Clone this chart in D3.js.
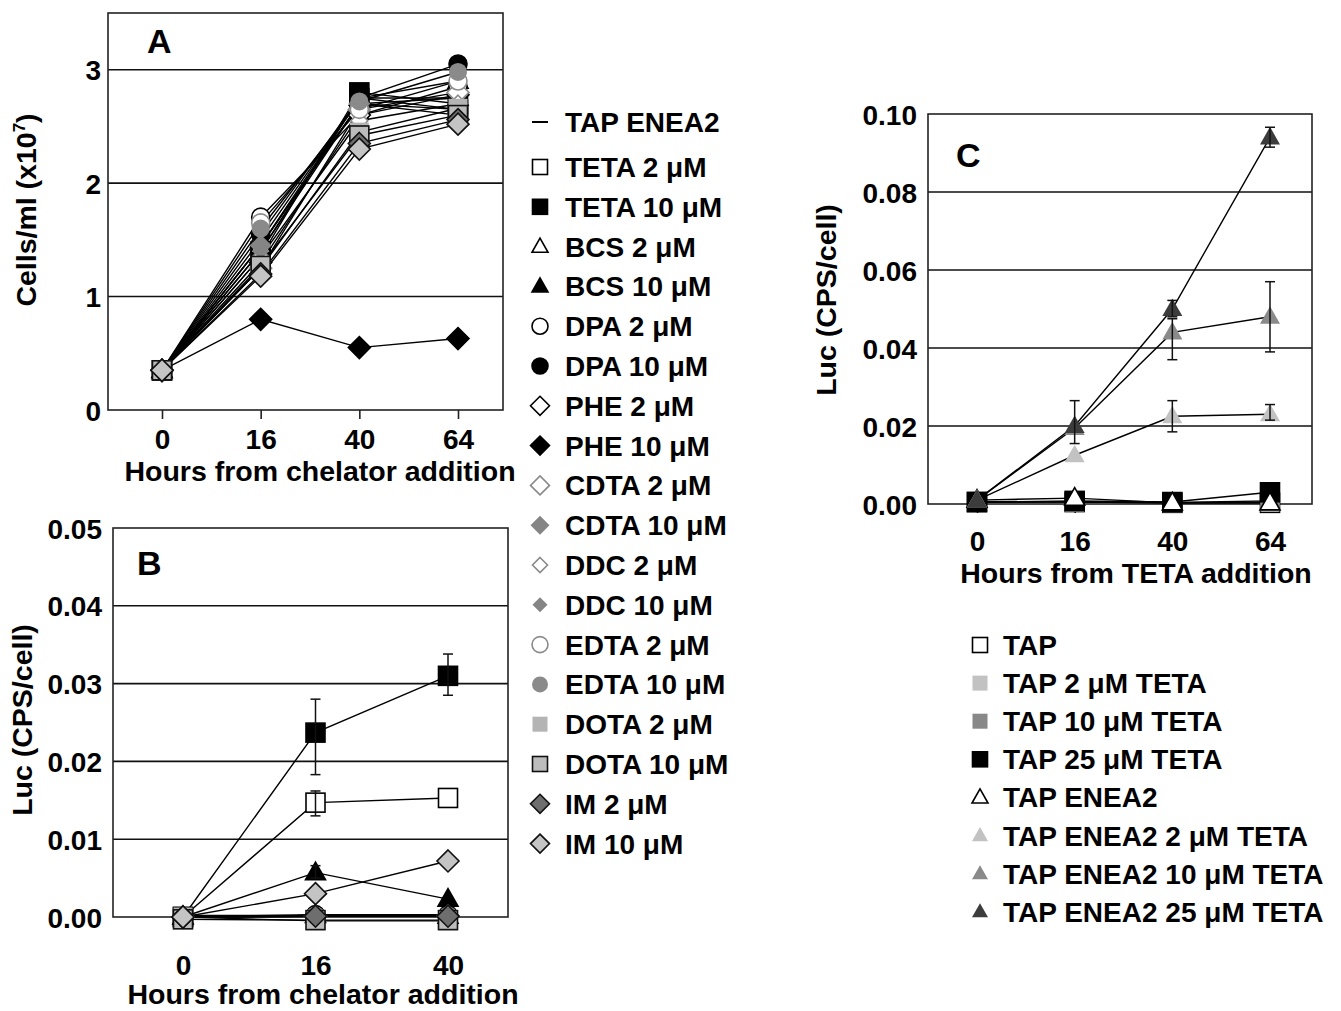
<!DOCTYPE html>
<html><head><meta charset="utf-8">
<script src="https://cdn.jsdelivr.net/npm/d3@7"></script>
<style>
body{margin:0;background:#fff}
svg text{font-family:"Liberation Sans",Arial,Helvetica,sans-serif;font-weight:bold;fill:#000}
</style>
</head><body>
<svg id="chart" width="1341" height="1011"></svg>
<script>
// ---------------- DATA ----------------
const hoursA = [0, 16, 40, 64];
const hoursB = [0, 16, 40];
const hoursC = [0, 16, 40, 64];

const chelatorSeries = ["TAP ENEA2","TETA 2 μM","TETA 10 μM","BCS 2 μM","BCS 10 μM","DPA 2 μM","DPA 10 μM",
  "PHE 2 μM","PHE 10 μM","CDTA 2 μM","CDTA 10 μM","DDC 2 μM","DDC 10 μM","EDTA 2 μM","EDTA 10 μM",
  "DOTA 2 μM","DOTA 10 μM","IM 2 μM","IM 10 μM"];

// Panel A: cells/ml (x10^7) at 0,16,40,64 h
const cellsA = [
  [0.35, 1.45, 2.75, 2.75],
  [0.35, 1.40, 2.75, 2.65],
  [0.35, 1.35, 2.80, 2.70],
  [0.35, 1.45, 2.70, 2.75],
  [0.35, 1.50, 2.75, 2.90],
  [0.35, 1.70, 2.60, 2.85],
  [0.35, 1.55, 2.75, 3.05],
  [0.35, 1.30, 2.60, 2.78],
  [0.35, 0.80, 0.55, 0.63],
  [0.35, 1.25, 2.65, 2.80],
  [0.35, 1.45, 2.70, 2.60],
  [0.35, 1.35, 2.55, 2.70],
  [0.35, 1.40, 2.70, 2.65],
  [0.35, 1.65, 2.65, 2.90],
  [0.35, 1.60, 2.72, 2.98],
  [0.35, 1.25, 2.45, 2.66],
  [0.35, 1.27, 2.42, 2.60],
  [0.35, 1.20, 2.35, 2.56],
  [0.35, 1.18, 2.30, 2.52]
];

// Panel B: Luc (CPS/cell) at 0,16,40 h
const lucB = [
  [0.0002, 0.0002, 0.0002],
  [0.0000, 0.0147, 0.0153],
  [0.0000, 0.0237, 0.0310],
  [0.0000, 0.0002, 0.0001],
  [0.0000, 0.0057, 0.0023],
  [0.0000, 0.0002, 0.0002],
  [0.0000, 0.0003, 0.0003],
  [0.0000, 0.0001, 0.0001],
  [0.0000, 0.0002, 0.0001],
  [0.0000, 0.0001, 0.0001],
  [0.0000, 0.0002, 0.0002],
  [0.0000, 0.0001, 0.0001],
  [0.0000, 0.0002, 0.0001],
  [0.0000, 0.0001, 0.0001],
  [0.0000, 0.0002, 0.0002],
  [0.0000, -0.0005, -0.0005],
  [-0.0003, -0.0004, -0.0004],
  [0.0000, 0.0001, 0.0001],
  [0.0000, 0.0030, 0.0072]
];
const errorsB = [
  {series: "TETA 10 μM", hour: 16, lo: 0.0183, hi: 0.0280},
  {series: "TETA 10 μM", hour: 40, lo: 0.0285, hi: 0.0338},
  {series: "TETA 2 μM",  hour: 16, lo: 0.0130, hi: 0.0162},
  {series: "BCS 10 μM",  hour: 16, lo: 0.0050, hi: 0.0066}
];

// Panel C
const tetaSeries = ["TAP","TAP 2 μM TETA","TAP 10 μM TETA","TAP 25 μM TETA","TAP ENEA2",
  "TAP ENEA2 2 μM TETA","TAP ENEA2 10 μM TETA","TAP ENEA2 25 μM TETA"];
const lucC = [
  [0.0005, 0.0005, 0.0003, 0.0003],
  [0.0005, 0.0005, 0.0003, 0.0005],
  [0.0005, 0.0006, 0.0004, 0.0008],
  [0.0005, 0.0008, 0.0005, 0.0030],
  [0.0010, 0.0015, 0.0003, 0.0003],
  [0.0010, 0.0125, 0.0225, 0.0230],
  [0.0010, 0.0195, 0.0440, 0.0480],
  [0.0010, 0.0200, 0.0500, 0.0940]
];
const errorsC = [
  {series: "TAP ENEA2 2 μM TETA",  hour: 40, lo: 0.0185, hi: 0.0265},
  {series: "TAP ENEA2 2 μM TETA",  hour: 64, lo: 0.0215, hi: 0.0255},
  {series: "TAP ENEA2 10 μM TETA", hour: 40, lo: 0.0370, hi: 0.0475},
  {series: "TAP ENEA2 10 μM TETA", hour: 64, lo: 0.0390, hi: 0.0570},
  {series: "TAP ENEA2 25 μM TETA", hour: 16, lo: 0.0155, hi: 0.0265},
  {series: "TAP ENEA2 25 μM TETA", hour: 40, lo: 0.0480, hi: 0.0522},
  {series: "TAP ENEA2 25 μM TETA", hour: 64, lo: 0.0915, hi: 0.0966}
];

const yTicksA = [0, 1, 2, 3];
const yTicksB = [0, 0.01, 0.02, 0.03, 0.04, 0.05];
const yTicksC = [0, 0.02, 0.04, 0.06, 0.08, 0.10];

// ---------------- STYLES ----------------
const stylesA = [
  {shape:"none"},
  {shape:"square", fill:"#fff", stroke:"#000"},
  {shape:"square", fill:"#000", stroke:"#000"},
  {shape:"triangle", fill:"#fff", stroke:"#000"},
  {shape:"triangle", fill:"#000", stroke:"#000"},
  {shape:"circle", fill:"#fff", stroke:"#000"},
  {shape:"circle", fill:"#000", stroke:"#000"},
  {shape:"diamond", fill:"#fff", stroke:"#000"},
  {shape:"diamond", fill:"#000", stroke:"#000"},
  {shape:"diamond", fill:"#fff", stroke:"#8a8a8a"},
  {shape:"diamond", fill:"#858585", stroke:"none"},
  {shape:"sdiamond", fill:"#fff", stroke:"#8a8a8a"},
  {shape:"sdiamond", fill:"#858585", stroke:"none"},
  {shape:"circle", fill:"#fff", stroke:"#8a8a8a"},
  {shape:"circle", fill:"#8a8a8a", stroke:"none"},
  {shape:"square", fill:"#b4b4b4", stroke:"none"},
  {shape:"square", fill:"#bcbcbc", stroke:"#111"},
  {shape:"diamond", fill:"#6e6e6e", stroke:"#111"},
  {shape:"diamond", fill:"#c4c4c4", stroke:"#111"}
];
const stylesC = [
  {shape:"square", fill:"#fff", stroke:"#000"},
  {shape:"square", fill:"#c2c2c2", stroke:"none"},
  {shape:"square", fill:"#888", stroke:"none"},
  {shape:"square", fill:"#000", stroke:"#000"},
  {shape:"triangle", fill:"#fff", stroke:"#000"},
  {shape:"triangle", fill:"#c2c2c2", stroke:"none"},
  {shape:"triangle", fill:"#8a8a8a", stroke:"none"},
  {shape:"triangle", fill:"#3c3c3c", stroke:"none"}
];
const plotSize = {square:19, circle:18, triangle:20, diamond:22, sdiamond:17};
const legendSize = {square:15, circle:16, triangle:16, diamond:19, sdiamond:15};

const FONT_TICK = 28, FONT_TITLE = 28.5, FONT_LEG = 28, FONT_PANEL = 34;

const svg = d3.select("#chart");

function drawMarker(g, st, sizes) {
  const s = sizes[st.shape];
  const sw = st.stroke === "none" ? 0 : 1.6;
  let el;
  if (st.shape === "none") return;
  if (st.shape === "square") {
    el = g.append("rect").attr("x", -s/2).attr("y", -s/2).attr("width", s).attr("height", s);
  } else if (st.shape === "circle") {
    el = g.append("circle").attr("r", s/2);
  } else if (st.shape === "triangle") {
    const h = s * 0.88;
    el = g.append("path").attr("d", `M0,${-h*0.6}L${s/2},${h*0.4}L${-s/2},${h*0.4}Z`);
  } else {
    el = g.append("path").attr("d", `M0,${-s/2}L${s/2},0L0,${s/2}L${-s/2},0Z`);
  }
  el.attr("fill", st.fill).attr("stroke", st.stroke).attr("stroke-width", sw).attr("stroke-linejoin","miter");
}

function drawPanel(cfg) {
  const g = svg.append("g");
  const x = d3.scalePoint().domain(cfg.hours).range(cfg.xRange);
  const y = d3.scaleLinear().domain(cfg.yDomain).range([cfg.box.y1, cfg.box.y0]);

  // gridlines
  g.append("g").selectAll("line").data(cfg.yTicks.filter(t => t > cfg.yDomain[0] && t < cfg.yDomain[1]))
    .join("line").attr("x1", cfg.box.x0).attr("x2", cfg.box.x1)
    .attr("y1", d => y(d)).attr("y2", d => y(d)).attr("stroke", "#111").attr("stroke-width", 1.6);

  // frame
  g.append("rect").attr("x", cfg.box.x0).attr("y", cfg.box.y0)
    .attr("width", cfg.box.x1 - cfg.box.x0).attr("height", cfg.box.y1 - cfg.box.y0)
    .attr("fill", "none").attr("stroke", "#222").attr("stroke-width", 1.6);

  // y axis labels
  const ya = g.append("g").attr("transform", `translate(${cfg.box.x0},0)`)
    .call(d3.axisLeft(y).tickValues(cfg.yTicks).tickSize(0).tickPadding(cfg.yPad).tickFormat(d3.format(cfg.yFormat)));
  ya.select(".domain").remove();
  ya.selectAll("text").attr("font-size", FONT_TICK).attr("font-family", null).attr("fill", "#000").attr("dy", "0.36em");

  // x axis: ticks and labels
  const xt = g.append("g").attr("transform", `translate(0,${cfg.box.y1})`)
    .call(d3.axisBottom(x).tickSize(9).tickFormat(""));
  xt.select(".domain").remove();
  xt.selectAll("line").attr("stroke", "#222").attr("stroke-width", 1.6);
  const xl = g.append("g").attr("transform", `translate(0,${cfg.box.y1})`)
    .call(d3.axisBottom(x).tickSize(0).tickPadding(cfg.xPad));
  xl.select(".domain").remove();
  xl.selectAll("text").attr("font-size", FONT_TICK).attr("font-family", null).attr("fill", "#000");

  // titles
  g.append("text").attr("x", cfg.xTitle[0]).attr("y", cfg.xTitle[1]).attr("text-anchor", "middle")
    .attr("font-size", FONT_TITLE).text(cfg.xTitleText);
  const yt = g.append("text").attr("transform", `translate(${cfg.yTitle[0]},${cfg.yTitle[1]}) rotate(-90)`)
    .attr("text-anchor", "middle").attr("font-size", FONT_TITLE);
  yt.append("tspan").text(cfg.yTitleText);
  if (cfg.yTitleSup) {
    yt.append("tspan").attr("font-size", 17).attr("dy", -11).text(cfg.yTitleSup);
    yt.append("tspan").attr("dy", 11).text(")");
  }
  g.append("text").attr("x", cfg.panel[0]).attr("y", cfg.panel[1]).attr("font-size", FONT_PANEL).text(cfg.panelText);

  // series
  const line = d3.line().x((d, i) => x(cfg.hours[i])).y(d => y(d));
  const lines = g.append("g");
  const marks = g.append("g");
  cfg.values.forEach((vals, si) => {
    lines.append("path").attr("d", line(vals)).attr("fill", "none").attr("stroke", "#000").attr("stroke-width", 1.4);
  });
  cfg.values.forEach((vals, si) => {
    const st = cfg.styles[si];
    vals.forEach((v, i) => {
      const mg = marks.append("g").attr("transform", `translate(${x(cfg.hours[i])},${y(v)})`);
      drawMarker(mg, st, plotSize);
    });
    cfg.errors.filter(e => e.series === cfg.names[si]).forEach(e => {
      const cx = x(e.hour);
      const eg = marks.append("g").attr("stroke", "#111").attr("stroke-width", 1.5);
      eg.append("line").attr("x1", cx).attr("x2", cx).attr("y1", y(e.lo)).attr("y2", y(e.hi));
      eg.append("line").attr("x1", cx - 5).attr("x2", cx + 5).attr("y1", y(e.lo)).attr("y2", y(e.lo));
      eg.append("line").attr("x1", cx - 5).attr("x2", cx + 5).attr("y1", y(e.hi)).attr("y2", y(e.hi));
    });
  });
}

drawPanel({
  hours: hoursA, xRange: [162, 458], box: {x0: 108, x1: 503, y0: 13, y1: 410},
  yDomain: [0, 3.5], yTicks: yTicksA, yFormat: "d", yPad: 7, xPad: 19,
  xTitle: [320, 481], xTitleText: "Hours from chelator addition",
  yTitle: [36, 210], yTitleText: "Cells/ml (x10", yTitleSup: "7",
  panel: [147, 53], panelText: "A",
  values: cellsA, styles: stylesA, names: chelatorSeries, errors: []
});
drawPanel({
  hours: hoursB, xRange: [183, 448], box: {x0: 113, x1: 508, y0: 528, y1: 917},
  yDomain: [0, 0.05], yTicks: yTicksB, yFormat: ".2f", yPad: 11, xPad: 38,
  xTitle: [323, 1004], xTitleText: "Hours from chelator addition",
  yTitle: [32, 720], yTitleText: "Luc (CPS/cell)",
  panel: [137, 575], panelText: "B",
  values: lucB, styles: stylesA, names: chelatorSeries, errors: errorsB
});
drawPanel({
  hours: hoursC, xRange: [977, 1270], box: {x0: 928, x1: 1312, y0: 114, y1: 504},
  yDomain: [0, 0.1], yTicks: yTicksC, yFormat: ".2f", yPad: 11, xPad: 27,
  xTitle: [1136, 583], xTitleText: "Hours from TETA addition",
  yTitle: [836, 300], yTitleText: "Luc (CPS/cell)",
  panel: [956, 167], panelText: "C",
  values: lucC, styles: stylesC, names: tetaSeries, errors: errorsC
});

// ---------------- LEGENDS ----------------
const legA = svg.append("g");
chelatorSeries.forEach((name, i) => {
  const cy = i === 0 ? 122 : 167 + (i - 1) * 39.8;
  const st = stylesA[i];
  const mg = legA.append("g").attr("transform", `translate(540,${cy})`);
  if (st.shape === "none") {
    mg.append("line").attr("x1", -8).attr("x2", 8).attr("stroke", "#000").attr("stroke-width", 2);
  } else drawMarker(mg, st, legendSize);
  legA.append("text").attr("x", 565).attr("y", cy + 10).attr("font-size", FONT_LEG).text(name);
});
const legC = svg.append("g");
tetaSeries.forEach((name, i) => {
  const cy = 645 + i * 38.1;
  const mg = legC.append("g").attr("transform", `translate(980,${cy})`);
  drawMarker(mg, stylesC[i], legendSize);
  legC.append("text").attr("x", 1003).attr("y", cy + 10).attr("font-size", FONT_LEG).text(name);
});
</script>
</body></html>
